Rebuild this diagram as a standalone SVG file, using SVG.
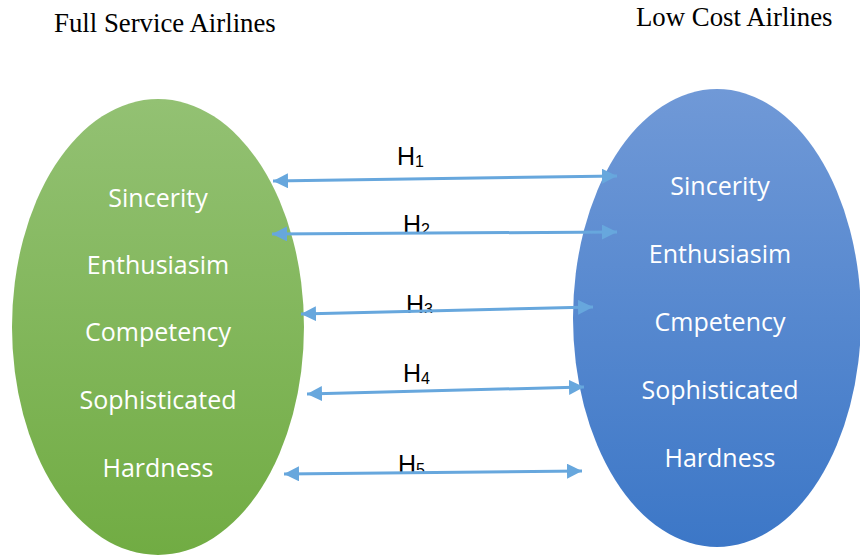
<svg xmlns="http://www.w3.org/2000/svg" width="860" height="556" viewBox="0 0 860 556">
  <defs>
    <linearGradient id="gGreen" x1="0" y1="0" x2="0" y2="1">
      <stop offset="0" stop-color="#93c173"/>
      <stop offset="1" stop-color="#71ac43"/>
    </linearGradient>
    <linearGradient id="gBlue" x1="0" y1="0" x2="0" y2="1">
      <stop offset="0" stop-color="#7099d7"/>
      <stop offset="1" stop-color="#3c77c7"/>
    </linearGradient>
    <marker id="ah" viewBox="0 0 10 10" refX="10" refY="5" markerWidth="5" markerHeight="5" orient="auto-start-reverse" markerUnits="strokeWidth">
      <path d="M0,0 L10,5 L0,10 z" fill="#67a7dd"/>
    </marker>
    <!-- label boxes are cut off along their connector line -->
    <clipPath id="cutH2"><rect x="380" y="190" width="80" height="43"/></clipPath>
    <clipPath id="cutH3"><rect x="380" y="270" width="80" height="43"/></clipPath>
    <clipPath id="cutH5"><rect x="380" y="430" width="80" height="44"/></clipPath>
  </defs>
  <style>
    .title { font-family: "Liberation Serif", "Times New Roman", serif; font-size: 26.8px; fill: #000; }
    .item { font-family: "Open Sans", "Noto Sans", sans-serif; font-size: 25px; fill: #fff; text-anchor: middle; }
    .hyp { font-family: "Liberation Sans", Arial, sans-serif; font-size: 25px; fill: #000; }
    .sub { font-size: 16px; }
    .conn { stroke: #67a7dd; stroke-width: 3; fill: none; marker-start: url(#ah); marker-end: url(#ah); }
  </style>

  <rect width="860" height="556" fill="#fff"/>

  <text class="title" x="54" y="32">Full Service Airlines</text>
  <text class="title" x="636" y="26">Low Cost Airlines</text>

  <g id="full-service">
    <ellipse cx="158" cy="327" rx="146" ry="228" fill="url(#gGreen)"/>
    <text class="item" x="158" y="207">Sincerity</text>
    <text class="item" x="158" y="274">Enthusiasim</text>
    <text class="item" x="158" y="341">Competency</text>
    <text class="item" x="158" y="409">Sophisticated</text>
    <text class="item" x="158" y="477">Hardness</text>
  </g>

  <g id="low-cost">
    <ellipse cx="717" cy="318" rx="144" ry="229" fill="url(#gBlue)"/>
    <text class="item" x="720" y="195">Sincerity</text>
    <text class="item" x="720" y="263">Enthusiasim</text>
    <text class="item" x="720" y="331">Cmpetency</text>
    <text class="item" x="720" y="399">Sophisticated</text>
    <text class="item" x="720" y="467">Hardness</text>
  </g>

  <g id="labels">
    <text class="hyp" x="397" y="165">H<tspan class="sub" dy="2">1</tspan></text>
    <text class="hyp" x="403" y="233" clip-path="url(#cutH2)">H<tspan class="sub" dy="2">2</tspan></text>
    <text class="hyp" x="406" y="313" clip-path="url(#cutH3)">H<tspan class="sub" dy="2">3</tspan></text>
    <text class="hyp" x="403" y="382">H<tspan class="sub" dy="2">4</tspan></text>
    <text class="hyp" x="398" y="473" clip-path="url(#cutH5)">H<tspan class="sub" dy="2">5</tspan></text>
  </g>

  <g id="connectors">
    <line class="conn" x1="273" y1="181" x2="617" y2="176"/>
    <line class="conn" x1="272" y1="234" x2="617" y2="232"/>
    <line class="conn" x1="301" y1="314" x2="593" y2="307"/>
    <line class="conn" x1="307" y1="394" x2="584" y2="387"/>
    <line class="conn" x1="284" y1="474" x2="582" y2="471"/>
  </g>
</svg>
